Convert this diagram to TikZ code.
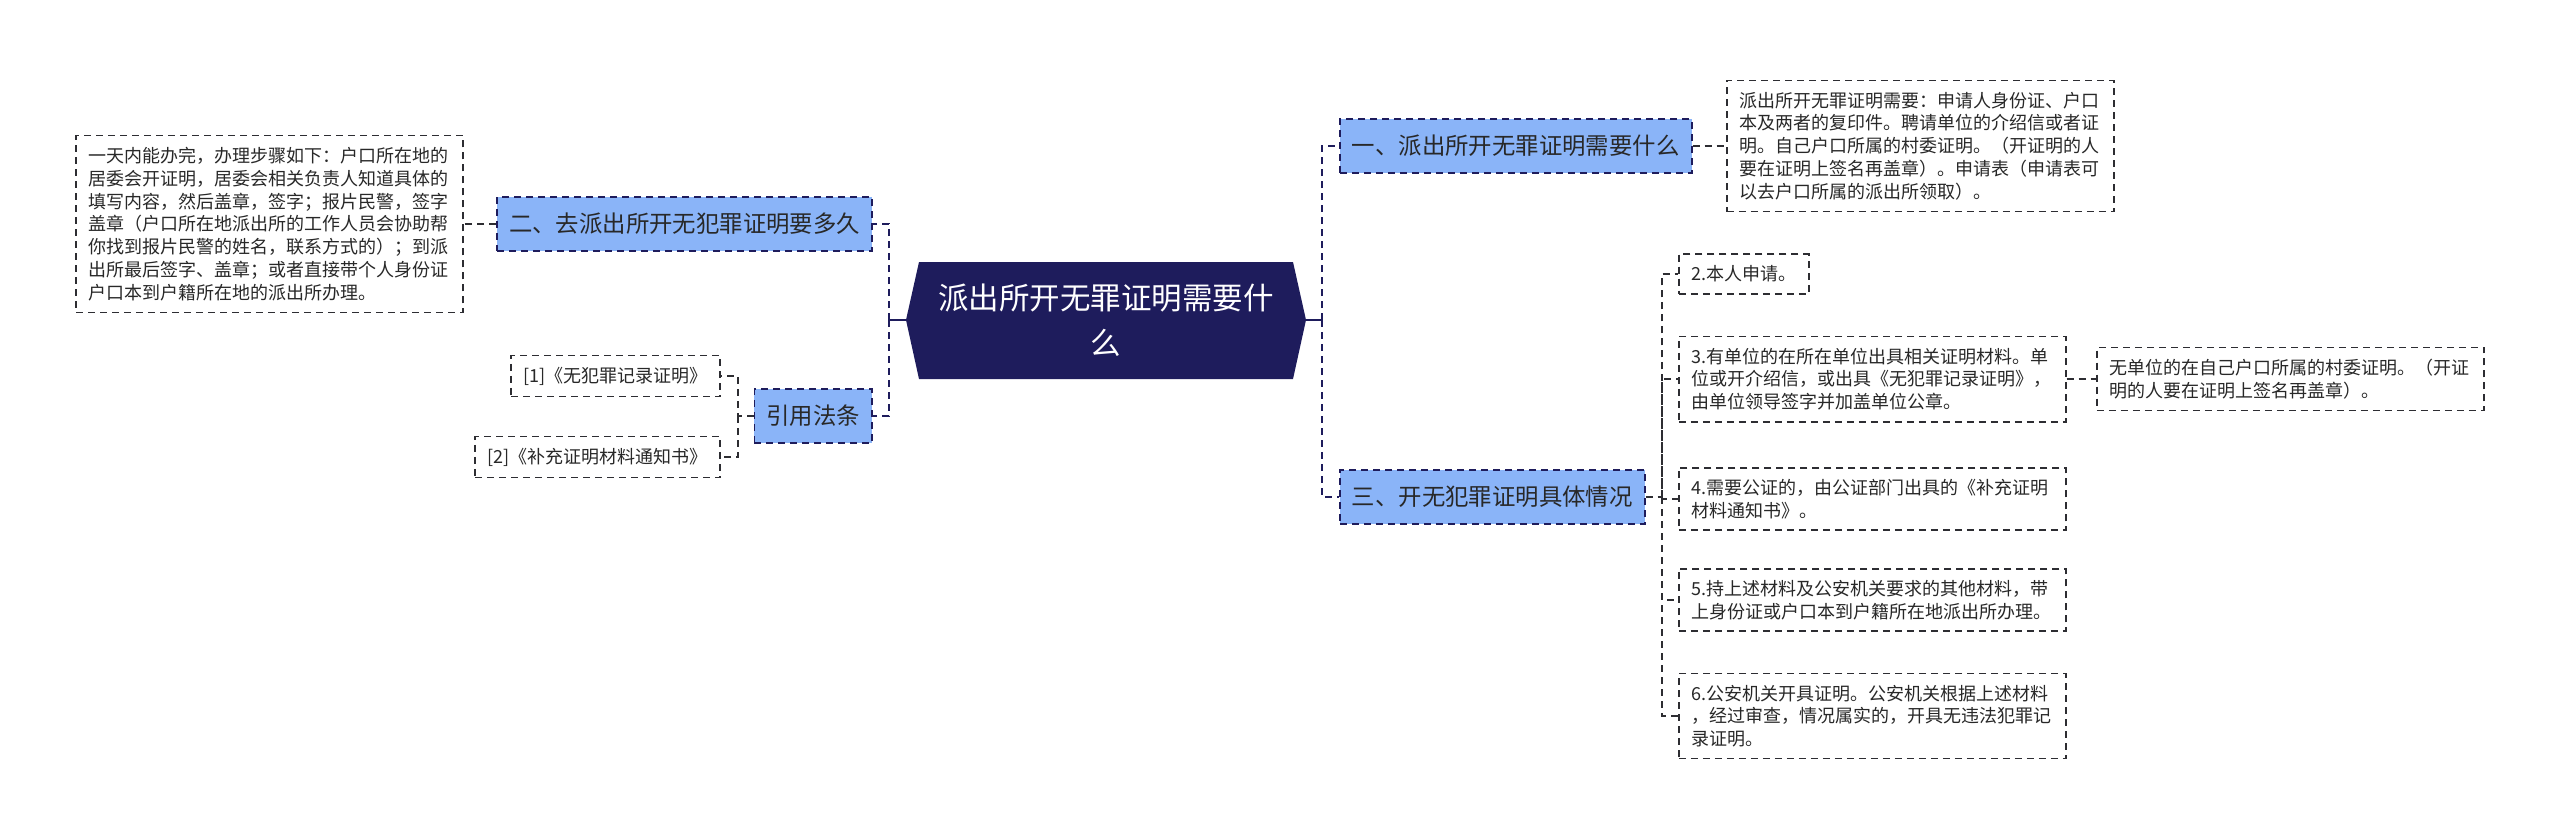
\documentclass[tikz,border=0pt]{standalone}
\usepackage{fontspec}
\newfontfamily\cjk{Noto Sans CJK SC}
\usetikzlibrary{calc}
\definecolor{navy}{RGB}{30,28,92}
\definecolor{lblue}{RGB}{138,180,248}
\definecolor{txt}{RGB}{40,40,40}
\definecolor{edgec}{RGB}{45,45,50}
\begin{document}
\begin{tikzpicture}[x=1pt,y=-1pt,
  leaf/.style={draw=edgec, line width=1.6pt, dash pattern=on 7pt off 5pt, fill=white, text=txt,
    font=\cjk\fontsize{18}{22.8}\selectfont, inner xsep=12.5pt, inner ysep=11.5pt, align=left},
  leafw/.style={leaf, text width=362pt},
  topic/.style={draw=navy, line width=1.9pt, dash pattern=on 7pt off 5pt, fill=lblue, text=txt,
    font=\cjk\fontsize{23.4}{28}\selectfont, inner xsep=12pt, minimum height=54pt},
  rootnode/.style={minimum width=400pt, minimum height=117pt, text=white, align=center,
    font=\cjk\fontsize{30.5}{45}\selectfont},
  mainline/.style={draw=navy, line width=2.8pt, dash pattern=on 7pt off 5pt},
  stub/.style={draw=navy, line width=1.8pt},
  subline/.style={draw=edgec, line width=1.7pt, dash pattern=on 7pt off 5pt},
]
\fill[white] (0,0) rectangle (2560,839);
\useasboundingbox (0,0) rectangle (2560,839);

% root hexagon
\fill[navy] (906,320) -- (919,262) -- (1293,262) -- (1306,320) -- (1293,379) -- (919,379) -- cycle;
\node[rootnode] (root) at (1106,320) {派出所开无罪证明需要什\\么};

% left side
\node[topic, anchor=east] (t2) at (873,224) {二、去派出所开无犯罪证明要多久};
\node[leafw, anchor=east] (big) at (464,224) {一天内能办完，办理步骤如下：户口所在地的\\居委会开证明，居委会相关负责人知道具体的\\填写内容，然后盖章，签字；报片民警，签字\\盖章（户口所在地派出所的工作人员会协助帮\\你找到报片民警的姓名，联系方式的）；到派\\出所最后签字、盖章；或者直接带个人身份证\\户口本到户籍所在地的派出所办理。};
\node[topic, anchor=east] (tcite) at (873,416) {引用法条};
\node[leaf, anchor=east] (c1) at (721,376) {[1]《无犯罪记录证明》};
\node[leaf, anchor=east] (c2) at (721,457) {[2]《补充证明材料通知书》};

% right side
\node[topic, anchor=west] (t1) at (1339,146) {一、派出所开无罪证明需要什么};
\node[leafw, anchor=west] (d1) at (1726,146) {派出所开无罪证明需要：申请人身份证、户口\\本及两者的复印件。聘请单位的介绍信或者证\\明。自己户口所属的村委证明。（开证明的人\\要在证明上签名再盖章）。申请表（申请表可\\以去户口所属的派出所领取）。};
\node[topic, anchor=west] (t3) at (1339,497) {三、开无犯罪证明具体情况};
\node[leaf, anchor=west] (s2) at (1678,274) {2.本人申请。};
\node[leafw, anchor=west] (s3) at (1678,379) {3.有单位的在所在单位出具相关证明材料。单\\位或开介绍信，或出具《无犯罪记录证明》，\\由单位领导签字并加盖单位公章。};
\node[leafw, anchor=west] (s3b) at (2096,379) {无单位的在自己户口所属的村委证明。（开证\\明的人要在证明上签名再盖章）。};
\node[leafw, anchor=west] (s4) at (1678,499) {4.需要公证的，由公证部门出具的《补充证明\\材料通知书》。};
\node[leafw, anchor=west] (s5) at (1678,600) {5.持上述材料及公安机关要求的其他材料，带\\上身份证或户口本到户籍所在地派出所办理。};
\node[leafw, anchor=west] (s6) at (1678,716) {6.公安机关开具证明。公安机关根据上述材料\\，经过审查，情况属实的，开具无违法犯罪记\\录证明。};

% junctions
\coordinate (jl) at (889,320);
\coordinate (jr) at (1322,320);
\coordinate (jc) at (738,416);
\coordinate (j3) at (1662,497);

% main connectors
\draw[stub] (root.west) -- (jl);
\draw[stub] (root.east) -- (jr);
\draw[mainline] (jl) |- (t2.east);
\draw[mainline] (jl) |- (tcite.east);
\draw[mainline] (jr) |- (t1.west);
\draw[mainline] (jr) |- (t3.west);

% sub connectors
\draw[subline] (t2.west) -- (big.east);
\draw[subline] (tcite.west) -- (jc) |- (c1.east);
\draw[subline] (jc) |- (c2.east);
\draw[subline] (t1.east) -- (d1.west);
\draw[subline] (t3.east) -- (j3) |- (s2.west);
\draw[subline] (j3) |- (s3.west);
\draw[subline] (j3) |- (s4.west);
\draw[subline] (j3) |- (s5.west);
\draw[subline] (j3) |- (s6.west);
\draw[subline] (s3.east) -- (s3b.west);
\end{tikzpicture}
\end{document}
